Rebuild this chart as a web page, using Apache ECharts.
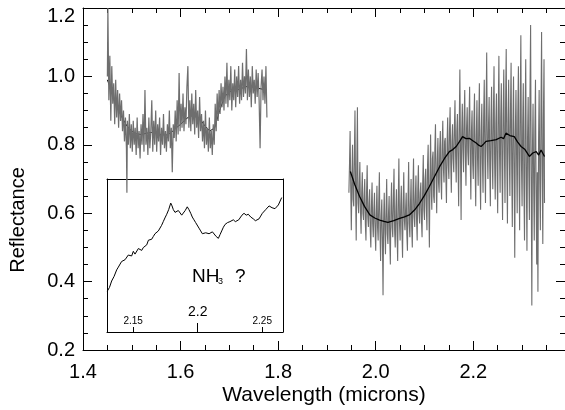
<!DOCTYPE html>
<html>
<head>
<meta charset="utf-8">
<script src="https://cdn.jsdelivr.net/npm/echarts@6/dist/echarts.min.js"></script>
<style>html,body{margin:0;padding:0;background:#fff;}#c{width:565px;height:410px;}</style>
</head>
<body>
<div id="c"></div>
<script>
// ---- data (wavelength in microns, reflectance) ----
const xTicks = [1.4, 1.6, 1.8, 2.0, 2.2];
const yTicks = [0.2, 0.4, 0.6, 0.8, 1.0];
const yTopLabel = '1.2';
const insetTicksSmall = [2.15, 2.25];
const insetTicksBig = [2.2];

// H-band spectrum (gray, noisy)
const specH = [
[1.450,1.00],[1.451,1.20],[1.453,0.93],[1.455,1.06],[1.457,0.87],[1.459,1.03],[1.461,0.92],[1.463,0.98],[1.465,0.86],[1.467,0.99],
[1.469,0.88],[1.471,0.96],[1.473,0.85],[1.475,0.95],[1.477,0.87],[1.479,0.93],[1.481,0.84],[1.483,0.90],[1.485,0.81],[1.487,0.88],
[1.489,0.79],[1.490,0.66],[1.491,0.87],[1.493,0.80],[1.495,0.89],[1.497,0.79],[1.499,0.86],[1.501,0.78],[1.503,0.87],[1.505,0.80],
[1.507,0.85],[1.509,0.77],[1.511,0.88],[1.513,0.79],[1.515,0.84],[1.517,0.76],[1.519,0.86],[1.521,0.80],[1.523,0.89],[1.525,0.78],
[1.527,0.96],[1.529,0.80],[1.531,0.85],[1.533,0.77],[1.535,0.88],[1.537,0.79],[1.539,0.84],[1.541,0.93],[1.543,0.78],[1.545,0.87],
[1.547,0.80],[1.549,0.90],[1.551,0.78],[1.553,0.86],[1.555,0.81],[1.557,0.88],[1.559,0.77],[1.561,0.85],[1.563,0.80],[1.565,0.89],
[1.567,0.79],[1.569,0.84],[1.571,0.78],[1.573,0.86],[1.575,0.81],[1.577,0.90],[1.579,0.79],[1.581,0.85],[1.583,0.72],[1.585,0.86],
[1.587,0.82],[1.589,0.90],[1.591,0.81],[1.593,0.93],[1.595,0.83],[1.597,1.01],[1.599,0.84],[1.601,0.92],[1.603,0.85],[1.605,0.95],
[1.607,0.84],[1.609,0.91],[1.611,0.86],[1.613,0.97],[1.615,1.03],[1.617,0.85],[1.619,0.93],[1.621,0.84],[1.623,0.95],[1.625,0.86],
[1.627,0.92],[1.629,0.83],[1.631,0.96],[1.633,0.85],[1.635,0.90],[1.637,0.82],[1.639,0.94],[1.641,0.84],[1.643,0.89],[1.645,0.81],
[1.647,0.87],[1.649,0.79],[1.651,0.90],[1.653,0.80],[1.655,0.85],[1.657,0.78],[1.659,0.88],[1.661,0.79],[1.663,0.84],[1.665,0.77],
[1.667,0.86],[1.669,0.80],[1.671,0.92],[1.673,0.84],[1.675,0.95],[1.677,0.87],[1.679,0.96],[1.681,0.89],[1.683,0.98],[1.685,0.91],
[1.687,0.97],[1.689,0.90],[1.691,1.00],[1.693,0.92],[1.695,1.04],[1.697,0.91],[1.699,0.99],[1.701,0.93],[1.703,1.03],[1.705,0.90],
[1.707,0.98],[1.709,0.93],[1.711,1.02],[1.713,0.91],[1.715,1.00],[1.717,0.94],[1.719,1.03],[1.721,0.92],[1.723,0.99],[1.725,0.93],
[1.727,1.04],[1.729,0.94],[1.731,1.00],[1.733,0.95],[1.735,1.08],[1.737,0.93],[1.739,1.02],[1.741,0.94],[1.743,1.00],[1.745,0.91],
[1.747,1.03],[1.749,0.95],[1.751,0.99],[1.753,0.92],[1.755,1.02],[1.757,0.94],[1.759,1.01],[1.761,0.93],[1.763,0.79],[1.765,0.97],
[1.767,1.02],[1.769,0.93],[1.771,1.00],[1.773,0.92],[1.775,1.03],[1.777,0.88]
];

// K-band spectrum (gray, noisy)
const specK = [
[1.9450,0.66],[1.94625,0.74],[1.9475,0.84],[1.94875,0.68],[1.9500,0.55],[1.95125,0.70],[1.9525,0.80],[1.95375,0.64],[1.9550,0.62],[1.95625,0.77],
[1.9575,0.90],[1.95875,0.66],[1.9600,0.52],[1.96125,0.74],[1.9625,0.91],[1.96375,0.63],[1.9650,0.60],[1.96625,0.68],[1.9675,0.75],[1.96875,0.61],
[1.9700,0.54],[1.97125,0.66],[1.9725,0.72],[1.97375,0.60],[1.9750,0.58],[1.97625,0.65],[1.9775,0.70],[1.97875,0.57],[1.9800,0.52],[1.98125,0.66],
[1.9825,0.74],[1.98375,0.59],[1.9850,0.56],[1.98625,0.63],[1.9875,0.67],[1.98875,0.55],[1.9900,0.50],[1.99125,0.62],[1.9925,0.69],[1.99375,0.57],
[1.9950,0.53],[1.99625,0.61],[1.9975,0.66],[1.99875,0.55],[2.0000,0.49],[2.00125,0.60],[2.0025,0.68],[2.00375,0.56],[2.0050,0.52],[2.00625,0.63],
[2.0075,0.72],[2.00875,0.55],[2.0100,0.46],[2.01125,0.59],[2.0125,0.64],[2.01375,0.52],[2.0150,0.36],[2.01625,0.58],[2.0175,0.66],[2.01875,0.55],
[2.0200,0.48],[2.02125,0.61],[2.0225,0.70],[2.02375,0.54],[2.0250,0.51],[2.02625,0.60],[2.0275,0.65],[2.02875,0.53],[2.0300,0.45],[2.03125,0.62],
[2.0325,0.69],[2.03375,0.56],[2.0350,0.53],[2.03625,0.64],[2.0375,0.73],[2.03875,0.55],[2.0400,0.50],[2.04125,0.61],[2.0425,0.67],[2.04375,0.54],
[2.0450,0.46],[2.04625,0.64],[2.0475,0.76],[2.04875,0.57],[2.0500,0.52],[2.05125,0.62],[2.0525,0.68],[2.05375,0.55],[2.0550,0.47],[2.05625,0.63],
[2.0575,0.72],[2.05875,0.58],[2.0600,0.55],[2.06125,0.61],[2.0625,0.66],[2.06375,0.54],[2.0650,0.49],[2.06625,0.64],[2.0675,0.75],[2.06875,0.57],
[2.0700,0.53],[2.07125,0.63],[2.0725,0.70],[2.07375,0.56],[2.0750,0.50],[2.07625,0.66],[2.0775,0.76],[2.07875,0.59],[2.0800,0.56],[2.08125,0.65],
[2.0825,0.71],[2.08375,0.58],[2.0850,0.52],[2.08625,0.67],[2.0875,0.74],[2.08875,0.60],[2.0900,0.57],[2.09125,0.66],[2.0925,0.69],[2.09375,0.58],
[2.0950,0.53],[2.09625,0.68],[2.0975,0.77],[2.09875,0.61],[2.1000,0.58],[2.10125,0.70],[2.1025,0.73],[2.10375,0.62],[2.1050,0.55],[2.10625,0.74],
[2.1075,0.80],[2.10875,0.64],[2.1100,0.50],[2.11125,0.70],[2.1125,0.83],[2.11375,0.67],[2.1150,0.61],[2.11625,0.76],[2.1175,0.78],[2.11875,0.65],
[2.1200,0.63],[2.12125,0.79],[2.1225,0.86],[2.12375,0.70],[2.1250,0.60],[2.12625,0.75],[2.1275,0.82],[2.12875,0.69],[2.1300,0.66],[2.13125,0.79],
[2.1325,0.84],[2.13375,0.70],[2.1350,0.64],[2.13625,0.80],[2.1375,0.87],[2.13875,0.73],[2.1400,0.69],[2.14125,0.81],[2.1425,0.82],[2.14375,0.71],
[2.1450,0.63],[2.14625,0.80],[2.1475,0.88],[2.14875,0.74],[2.1500,0.70],[2.15125,0.84],[2.1525,0.91],[2.15375,0.75],[2.1550,0.66],[2.15625,0.81],
[2.1575,0.86],[2.15875,0.76],[2.1600,0.72],[2.16125,0.85],[2.1625,0.93],[2.16375,0.77],[2.1650,0.69],[2.16625,0.84],[2.1675,0.89],[2.16875,0.75],
[2.1700,0.62],[2.17125,0.86],[2.1725,1.02],[2.17375,0.78],[2.1750,0.58],[2.17625,0.83],[2.1775,0.92],[2.17875,0.79],[2.1800,0.72],[2.18125,0.88],
[2.1825,0.96],[2.18375,0.77],[2.1850,0.68],[2.18625,0.85],[2.1875,0.91],[2.18875,0.78],[2.1900,0.74],[2.19125,0.87],[2.1925,0.97],[2.19375,0.76],
[2.1950,0.64],[2.19625,0.84],[2.1975,0.90],[2.19875,0.75],[2.2000,0.70],[2.20125,0.86],[2.2025,0.95],[2.20375,0.74],[2.2050,0.62],[2.20625,0.83],
[2.2075,0.93],[2.20875,0.76],[2.2100,0.68],[2.21125,0.87],[2.2125,0.98],[2.21375,0.73],[2.2150,0.61],[2.21625,0.84],[2.2175,0.92],[2.21875,0.75],
[2.2200,0.66],[2.22125,0.88],[2.2225,0.99],[2.22375,0.76],[2.2250,0.63],[2.22625,0.90],[2.2275,1.07],[2.22875,0.79],[2.2300,0.70],[2.23125,0.86],
[2.2325,0.94],[2.23375,0.74],[2.2350,0.62],[2.23625,0.87],[2.2375,0.97],[2.23875,0.77],[2.2400,0.67],[2.24125,0.89],[2.2425,1.03],[2.24375,0.75],
[2.2450,0.64],[2.24625,0.86],[2.2475,0.95],[2.24875,0.73],[2.2500,0.60],[2.25125,0.90],[2.2525,1.06],[2.25375,0.78],[2.2550,0.66],[2.25625,0.88],
[2.2575,0.98],[2.25875,0.74],[2.2600,0.58],[2.26125,0.89],[2.2625,1.02],[2.26375,0.79],[2.2650,0.63],[2.26625,0.92],[2.2675,1.08],[2.26875,0.76],
[2.2700,0.57],[2.27125,0.87],[2.2725,0.99],[2.27375,0.78],[2.2750,0.65],[2.27625,0.90],[2.2775,1.04],[2.27875,0.74],[2.2800,0.56],[2.28125,0.86],
[2.2825,1.00],[2.28375,0.72],[2.2850,0.47],[2.28625,0.84],[2.2875,0.96],[2.28875,0.77],[2.2900,0.60],[2.29125,0.89],[2.2925,1.03],[2.29375,0.71],
[2.2950,0.55],[2.29625,0.92],[2.2975,1.12],[2.29875,0.75],[2.3000,0.62],[2.30125,0.85],[2.3025,0.98],[2.30375,0.68],[2.3050,0.52],[2.30625,0.88],
[2.3075,1.05],[2.30875,0.70],[2.3100,0.49],[2.31125,0.82],[2.3125,0.94],[2.31375,0.73],[2.3150,0.58],[2.31625,0.95],[2.3175,1.15],[2.31875,0.70],
[2.3200,0.33],[2.32125,0.78],[2.3225,0.92],[2.32375,0.69],[2.3250,0.52],[2.32625,0.84],[2.3275,0.99],[2.32875,0.66],[2.3300,0.45],[2.33125,0.72],
[2.3325,0.37],[2.33375,0.80],[2.3350,0.96],[2.33625,0.70],[2.3375,0.55],[2.33875,0.90],[2.3400,1.13],[2.34125,0.72],[2.3425,0.51],[2.34375,0.88],
[2.3450,1.05],[2.3460,0.63]
];

// smoothed spectra (black)
const smoothH = [
[1.450,0.99],[1.460,0.95],[1.470,0.91],[1.480,0.88],[1.490,0.855],[1.500,0.84],[1.510,0.832],[1.520,0.83],[1.530,0.834],[1.540,0.836],
[1.550,0.833],[1.560,0.83],[1.570,0.828],[1.580,0.835],[1.590,0.848],[1.600,0.86],[1.610,0.874],[1.620,0.885],[1.630,0.882],[1.640,0.875],
[1.650,0.855],[1.660,0.84],[1.670,0.85],[1.680,0.90],[1.690,0.94],[1.700,0.955],[1.710,0.958],[1.720,0.962],[1.730,0.968],[1.740,0.972],
[1.750,0.968],[1.760,0.965],[1.770,0.962],[1.776,0.96]
];
const smoothK = [
[1.948,0.722],[1.957,0.684],[1.967,0.649],[1.977,0.620],[1.988,0.595],[1.998,0.586],[2.008,0.580],[2.017,0.576],[2.025,0.573],[2.037,0.578],
[2.049,0.585],[2.059,0.589],[2.069,0.595],[2.080,0.610],[2.090,0.629],[2.100,0.652],[2.110,0.678],[2.120,0.706],[2.131,0.736],[2.141,0.760],
[2.151,0.780],[2.158,0.786],[2.165,0.795],[2.172,0.810],[2.178,0.824],[2.185,0.818],[2.192,0.819],[2.199,0.812],[2.206,0.805],[2.211,0.799],
[2.216,0.795],[2.221,0.802],[2.226,0.810],[2.236,0.812],[2.247,0.815],[2.257,0.822],[2.262,0.818],[2.267,0.834],[2.275,0.827],[2.284,0.824],
[2.291,0.808],[2.298,0.795],[2.306,0.786],[2.315,0.766],[2.322,0.776],[2.329,0.780],[2.334,0.770],[2.339,0.785],[2.346,0.766]
];

// inset: zoom of the smoothed K-band spectrum
const insetSpec = [
[2.1299,0.734],[2.1316,0.738],[2.1333,0.745],[2.1352,0.750],[2.1372,0.757],[2.1385,0.760],[2.1398,0.761],[2.1410,0.766],[2.1423,0.765],[2.1437,0.768],
[2.1450,0.770],[2.1462,0.773],[2.1475,0.774],[2.1488,0.772],[2.1501,0.777],[2.1514,0.774],[2.1527,0.775],[2.1540,0.780],[2.1553,0.779],[2.1566,0.778],
[2.1578,0.781],[2.1592,0.783],[2.1605,0.784],[2.1618,0.789],[2.1630,0.791],[2.1643,0.790],[2.1656,0.793],[2.1669,0.796],[2.1682,0.797],[2.1695,0.799],
[2.1708,0.800],[2.1720,0.805],[2.1733,0.809],[2.1746,0.813],[2.1760,0.817],[2.1775,0.822],[2.1791,0.829],[2.1801,0.826],[2.1811,0.822],[2.1824,0.819],
[2.1837,0.818],[2.1850,0.821],[2.1863,0.820],[2.1876,0.816],[2.1888,0.818],[2.1903,0.821],[2.1919,0.825],[2.1932,0.822],[2.1946,0.818],[2.1958,0.814],
[2.1971,0.811],[2.1984,0.808],[2.1997,0.806],[2.2010,0.802],[2.2023,0.799],[2.2036,0.796],[2.2049,0.795],[2.2062,0.797],[2.2074,0.799],[2.2088,0.796],
[2.2101,0.795],[2.2114,0.798],[2.2126,0.797],[2.2143,0.793],[2.2160,0.791],[2.2173,0.795],[2.2186,0.799],[2.2199,0.803],[2.2212,0.806],[2.2231,0.808],
[2.2250,0.809],[2.2263,0.811],[2.2276,0.811],[2.2292,0.809],[2.2307,0.808],[2.2318,0.811],[2.2328,0.813],[2.2343,0.816],[2.2359,0.818],[2.2376,0.816],
[2.2392,0.817],[2.2411,0.814],[2.2431,0.812],[2.2447,0.810],[2.2462,0.809],[2.2475,0.812],[2.2488,0.815],[2.2501,0.818],[2.2514,0.820],[2.2527,0.822],
[2.2540,0.824],[2.2553,0.826],[2.2566,0.827],[2.2576,0.824],[2.2586,0.822],[2.2599,0.823],[2.2612,0.825],[2.2625,0.827],[2.2638,0.828],[2.2651,0.835]
];

const chart = echarts.init(document.getElementById('c'), null, {renderer: 'canvas'});
const FONT = '"Liberation Sans", Arial, Helvetica, sans-serif';
const black = '#000';
const gray = '#6e6e6e';
const line = {show: true, lineStyle: {color: black, width: 1}};

function mainX(pos, labels) {
  return {
    gridIndex: 0, type: 'value', position: pos, min: 1.4, max: 2.388, interval: 0.2,
    axisLine: line,
    axisTick: {show: true, inside: true, length: 9, lineStyle: {color: black}},
    minorTick: {show: true, splitNumber: 4, length: 5, lineStyle: {color: black}},
    splitLine: {show: false}, minorSplitLine: {show: false},
    axisLabel: {show: labels, showMaxLabel: false, color: black, fontSize: 20, fontFamily: FONT, margin: 12,
      formatter: v => xTicks.some(t => Math.abs(t - v) < 1e-6) ? v.toFixed(1) : ''}
  };
}
function mainY(pos, labels) {
  return {
    gridIndex: 0, type: 'value', position: pos, min: 0.2, max: 1.2, interval: 0.2,
    axisLine: line,
    axisTick: {show: true, inside: true, length: 9, lineStyle: {color: black}},
    minorTick: {show: true, splitNumber: 4, length: 5, lineStyle: {color: black}},
    splitLine: {show: false}, minorSplitLine: {show: false},
    axisLabel: {show: labels, showMaxLabel: false, color: black, fontSize: 20, fontFamily: FONT, margin: 8,
      formatter: v => yTicks.some(t => Math.abs(t - v) < 1e-6) ? v.toFixed(1) : ''}
  };
}
const insetMin = 2.1297, insetMax = 2.2661;

const option = {
  animation: false,
  backgroundColor: '#fff',
  grid: [
    {left: 83, right: 0, top: 8, bottom: 60},
    {left: 107, top: 179, width: 176, height: 153}
  ],
  xAxis: [
    mainX('bottom', true),
    mainX('top', false),
    {gridIndex: 1, type: 'value', position: 'bottom', min: insetMin, max: insetMax,
      axisLine: line,
      axisTick: {show: true, inside: true, length: 5, customValues: insetTicksSmall, lineStyle: {color: black}},
      axisLabel: {show: true, inside: true, customValues: insetTicksSmall, margin: 6, fontSize: 10, fontFamily: FONT, color: black,
        formatter: v => v.toFixed(2)},
      splitLine: {show: false}},
    {gridIndex: 1, type: 'value', position: 'bottom', min: insetMin, max: insetMax,
      axisLine: {show: false},
      axisTick: {show: true, inside: true, length: 9, customValues: insetTicksBig, lineStyle: {color: black}},
      axisLabel: {show: true, inside: true, customValues: insetTicksBig, margin: 13, fontSize: 14, fontFamily: FONT, color: black,
        formatter: v => v.toFixed(1)},
      splitLine: {show: false}},
    {gridIndex: 1, type: 'value', position: 'top', min: insetMin, max: insetMax,
      axisLine: line, axisTick: {show: false}, axisLabel: {show: false}, splitLine: {show: false}}
  ],
  yAxis: [
    mainY('left', true),
    mainY('right', false),
    {gridIndex: 1, type: 'value', position: 'left', min: 0.69, max: 0.855,
      axisLine: line, axisTick: {show: false}, axisLabel: {show: false}, splitLine: {show: false}},
    {gridIndex: 1, type: 'value', position: 'right', min: 0.69, max: 0.855,
      axisLine: line, axisTick: {show: false}, axisLabel: {show: false}, splitLine: {show: false}}
  ],
  series: [
    {type: 'line', xAxisIndex: 0, yAxisIndex: 0, data: smoothH, showSymbol: false, symbol: 'none', z: 1,
      lineStyle: {color: '#000', width: 1}},
    {type: 'line', xAxisIndex: 0, yAxisIndex: 0, data: specH, showSymbol: false, symbol: 'none', z: 2,
      lineStyle: {color: gray, width: 1.2}, clip: true},
    {type: 'line', xAxisIndex: 0, yAxisIndex: 0, data: specK, showSymbol: false, symbol: 'none', z: 2,
      lineStyle: {color: gray, width: 1.1}, clip: true},
    {type: 'line', xAxisIndex: 0, yAxisIndex: 0, data: smoothK, showSymbol: false, symbol: 'none', z: 3,
      lineStyle: {color: '#000', width: 1.3}},
    {type: 'line', xAxisIndex: 2, yAxisIndex: 2, data: insetSpec, showSymbol: false, symbol: 'none', z: 3,
      lineStyle: {color: '#000', width: 1}}
  ],
  graphic: [
    {type: 'text', x: 324, y: 395, style: {text: 'Wavelength (microns)', font: '21px ' + FONT, fill: black,
      textAlign: 'center', textVerticalAlign: 'middle'}},
    {type: 'text', x: 18, y: 220, rotation: Math.PI / 2,
      style: {text: 'Reflectance', font: '20px ' + FONT, fill: black, textAlign: 'center', textVerticalAlign: 'middle'}},
    {type: 'text', x: 75, y: 16, style: {text: yTopLabel, font: '20px ' + FONT, fill: black, textAlign: 'right', textVerticalAlign: 'middle'}},
    {type: 'text', x: 192, y: 277, style: {text: 'NH', font: '19px ' + FONT, fill: black, textAlign: 'left', textVerticalAlign: 'middle'}},
    {type: 'text', x: 218, y: 282, style: {text: '3', font: '9px ' + FONT, fill: black, textAlign: 'left', textVerticalAlign: 'middle'}},
    {type: 'text', x: 235, y: 277, style: {text: '?', font: '19px ' + FONT, fill: black, textAlign: 'left', textVerticalAlign: 'middle'}}
  ]
};
chart.setOption(option);
</script>
</body>
</html>
